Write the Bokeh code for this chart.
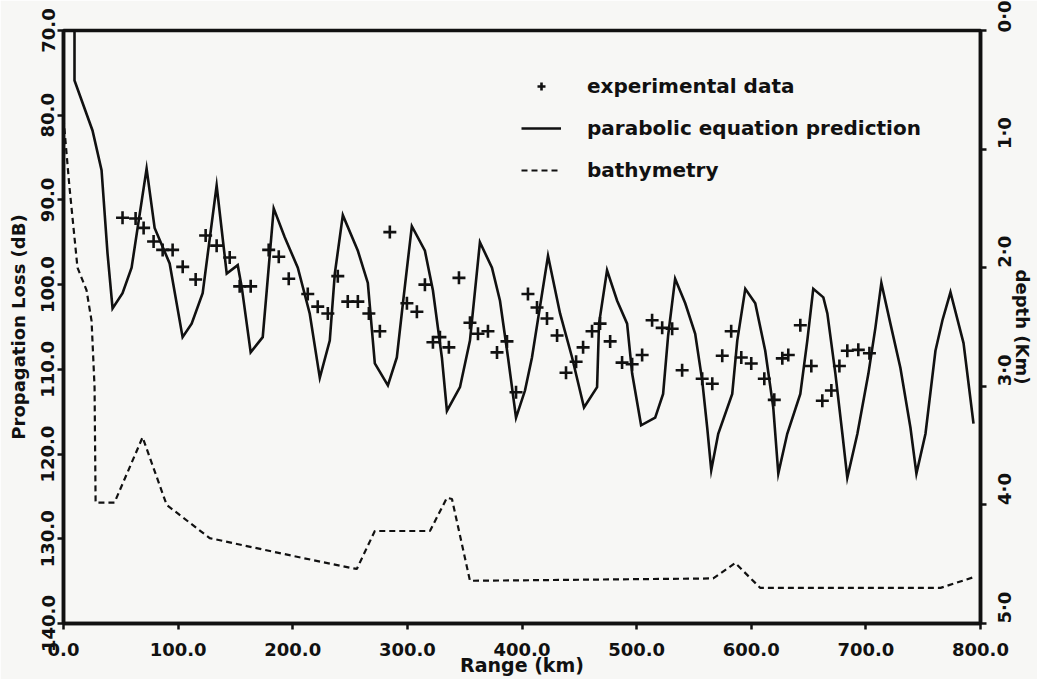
import math
from bokeh.plotting import figure
from bokeh.models import (Range1d, LinearAxis, FixedTicker, CustomJSTickFormatter,
                          Legend, LegendItem)
from bokeh.embed import file_html
from bokeh.resources import INLINE

# ---------------- data ----------------
pe_range_km = [9.6, 9.6, 25.3, 33.2, 38.4, 42.8, 51.5, 59.4, 72.5, 79.5, 92.6, 103.9,
               111.8, 121.4, 133.6, 142.4, 152.0, 155.5, 163.3, 173.8, 177.3, 183.4,
               193.0, 204.4, 214.8, 223.6, 232.3, 236.7, 243.7, 256.8, 265.5, 271.6,
               283.0, 290.8, 296.1, 303.9, 315.3, 322.3, 330.1, 334.5, 345.9, 354.6,
               363.3, 373.8, 380.8, 387.8, 394.8, 402.6, 408.7, 422.7, 433.2, 443.7,
               454.1, 465.5, 467.2, 474.2, 483.0, 491.7, 496.1, 503.9, 516.2, 523.1,
               527.5, 533.6, 542.4, 551.1, 557.2, 561.6, 565.1, 571.2, 583.4, 587.8,
               594.8, 603.5, 612.2, 619.2, 623.6, 631.4, 642.8, 648.9, 654.1, 662.9,
               666.4, 673.4, 679.5, 683.8, 692.6, 702.2, 708.3, 713.5, 721.4, 730.1,
               738.9, 744.1, 752.0, 760.7, 766.8, 773.8, 785.2, 793.9]
pe_loss_db = [70.0, 75.9, 81.8, 86.5, 96.3, 102.8, 101.0, 98.0, 86.3, 93.3, 97.5, 106.2,
              104.6, 101.0, 88.3, 98.7, 97.7, 100.3, 108.0, 106.2, 100.7, 91.0,
              94.4, 98.0, 103.4, 111.0, 106.6, 98.7, 91.8, 96.0, 99.8, 109.3,
              111.9, 108.6, 102.2, 93.1, 96.0, 100.7, 108.6, 114.9, 112.1, 106.6,
              95.0, 98.0, 101.9, 108.6, 115.7, 112.5, 108.6, 96.6, 103.4, 108.6,
              114.5, 112.1, 104.6, 98.3, 101.9, 104.6, 110.5, 116.6, 115.7, 112.9,
              106.0, 99.3, 102.2, 105.8, 111.3, 116.9, 121.9, 117.6, 112.9, 106.6,
              100.5, 102.2, 107.8, 114.5, 122.3, 117.6, 112.9, 106.6, 100.5, 101.5,
              103.4, 110.5, 117.6, 122.8, 117.6, 110.5, 105.1, 99.8, 104.6, 109.8,
              116.9, 122.3, 117.6, 107.8, 104.2, 100.9, 106.9, 116.4]

exp_range_km = [51.5, 62.9, 69.9, 78.6, 86.5, 95.2, 104.0, 115.3, 124.0, 133.6, 145.0,
                153.7, 163.3, 179.0, 187.8, 196.5, 213.1, 221.8, 230.6, 239.3, 248.0,
                256.8, 266.4, 276.0, 284.7, 299.6, 308.3, 315.3, 322.3, 328.4, 336.2,
                345.0, 354.6, 361.6, 370.3, 378.2, 386.9, 394.8, 405.2, 413.1, 421.8,
                430.6, 438.4, 447.2, 453.3, 461.1, 468.1, 476.9, 487.3, 496.1, 504.8,
                513.5, 522.3, 531.0, 539.7, 557.2, 566.0, 574.7, 582.5, 591.3, 600.0,
                611.4, 620.1, 627.1, 632.3, 642.8, 652.4, 662.0, 669.9, 676.9, 683.8,
                693.4, 703.1]
exp_loss_db = [92.1, 92.2, 93.3, 94.9, 95.9, 95.9, 97.9, 99.4, 94.2, 95.4, 96.8,
               100.2, 100.2, 95.9, 96.7, 99.3, 101.1, 102.6, 103.4, 99.0, 102.0,
               102.0, 103.4, 105.5, 93.8, 102.2, 103.2, 100.0, 106.8, 106.2, 107.4,
               99.2, 104.5, 105.8, 105.5, 108.0, 106.7, 112.7, 101.1, 102.7, 104.0,
               106.0, 110.4, 109.1, 107.4, 105.5, 104.6, 106.7, 109.2, 109.4, 108.3,
               104.2, 105.1, 105.2, 110.1, 111.1, 111.7, 108.4, 105.5, 108.6, 109.3,
               111.1, 113.6, 108.7, 108.3, 104.8, 109.6, 113.7, 112.5, 109.6, 107.8,
               107.7, 108.1]

bathy_range_km = [0.0, 5.2, 12.2, 20.1, 24.5, 27.1, 28.0, 44.5, 69.0, 90.0, 127.5, 200.0,
                  249.8, 255.9, 271.6, 319.7, 334.5, 338.9, 354.6, 566.8, 586.0, 607.9,
                  765.1, 793.9]
bathy_depth_km = [0.74, 1.32, 2.00, 2.19, 2.45, 3.01, 3.98, 3.98, 3.43, 4.00, 4.28, 4.43,
                  4.53, 4.54, 4.22, 4.22, 3.94, 3.95, 4.64, 4.62, 4.49, 4.70,
                  4.70, 4.61]

range_ticks = [0, 100, 200, 300, 400, 500, 600, 700, 800]
loss_ticks = [70, 80, 90, 100, 110, 120, 130, 140]
depth_ticks = [0, 1, 2, 3, 4, 5]

# ---------------- figure ----------------
FONT = "DejaVu Sans"
INK = "#111111"
BG = "#f7f7f5"

p = figure(width=1037, height=679, x_range=Range1d(0, 800), y_range=Range1d(140, 70),
           output_backend="svg", toolbar_location=None,
           min_border_left=63, min_border_right=57, min_border_top=30, min_border_bottom=56,
           background_fill_color=BG, border_fill_color=BG)
p.extra_y_ranges = {"depth": Range1d(5, 0)}
p.xgrid.visible = False
p.ygrid.visible = False
p.outline_line_color = INK
p.outline_line_width = 3.5
p.outline_line_alpha = 1.0

# bottom axis
xa = p.xaxis[0]
xa.ticker = FixedTicker(ticks=range_ticks)
xa.formatter = CustomJSTickFormatter(code="return tick.toFixed(1);")
xa.axis_label = "Range (km)"
xa.major_label_standoff = 13
xa.axis_label_standoff = -5

# left axis
ya = p.yaxis[0]
ya.ticker = FixedTicker(ticks=loss_ticks)
ya.formatter = CustomJSTickFormatter(code="return tick.toFixed(1);")
ya.axis_label = "Propagation Loss (dB)"
ya.major_label_orientation = "vertical"
ya.major_label_standoff = 3
ya.axis_label_standoff = 10

# right axis (depth)
ra = LinearAxis(y_range_name="depth", ticker=FixedTicker(ticks=depth_ticks),
                formatter=CustomJSTickFormatter(code="return tick.toFixed(1).replace('.', '\u00b7');"),
                axis_label="depth (Km)")
ra.major_label_orientation = math.pi / 2
ra.major_label_standoff = 18
ra.axis_label_standoff = -17
p.add_layout(ra, "right")

for ax in [xa, ya, ra]:
    ax.axis_line_color = INK
    ax.axis_line_width = 3.5
    ax.major_tick_line_color = INK
    ax.major_tick_line_width = 2.5
    ax.major_tick_out = 6
    ax.major_tick_in = 0
    ax.minor_tick_line_color = None
    ax.major_label_text_font = FONT
    ax.major_label_text_font_style = "bold"
    ax.major_label_text_font_size = "18px"
    ax.major_label_text_color = INK
    ax.axis_label_text_font = FONT
    ax.axis_label_text_font_style = "bold"
    ax.axis_label_text_font_size = "18px"
    ax.axis_label_text_color = INK
xa.axis_label_text_font_size = "19px"

# ---------------- glyphs ----------------
r_bathy = p.line(bathy_range_km, bathy_depth_km, y_range_name="depth",
                 line_color=INK, line_width=2.2, line_dash="6 4")
r_pe = p.line(pe_range_km, pe_loss_db, line_color=INK, line_width=2.6,
              line_join="miter")
r_exp = p.scatter(exp_range_km, exp_loss_db, marker="cross", size=13,
                  line_color=INK, line_width=2.6)

legend = Legend(items=[LegendItem(label="experimental data", renderers=[r_exp]),
                       LegendItem(label="parabolic equation prediction", renderers=[r_pe]),
                       LegendItem(label="bathymetry", renderers=[r_bathy])],
                location=(458, 441), orientation="vertical",
                glyph_width=40, glyph_height=20, label_height=20, spacing=18,
                label_standoff=26, padding=0, margin=0,
                border_line_alpha=0, background_fill_alpha=0,
                label_text_font=FONT, label_text_font_style="bold",
                label_text_font_size="20px", label_text_color=INK)
p.add_layout(legend)

open("out.html", "w").write(file_html(p, INLINE))
